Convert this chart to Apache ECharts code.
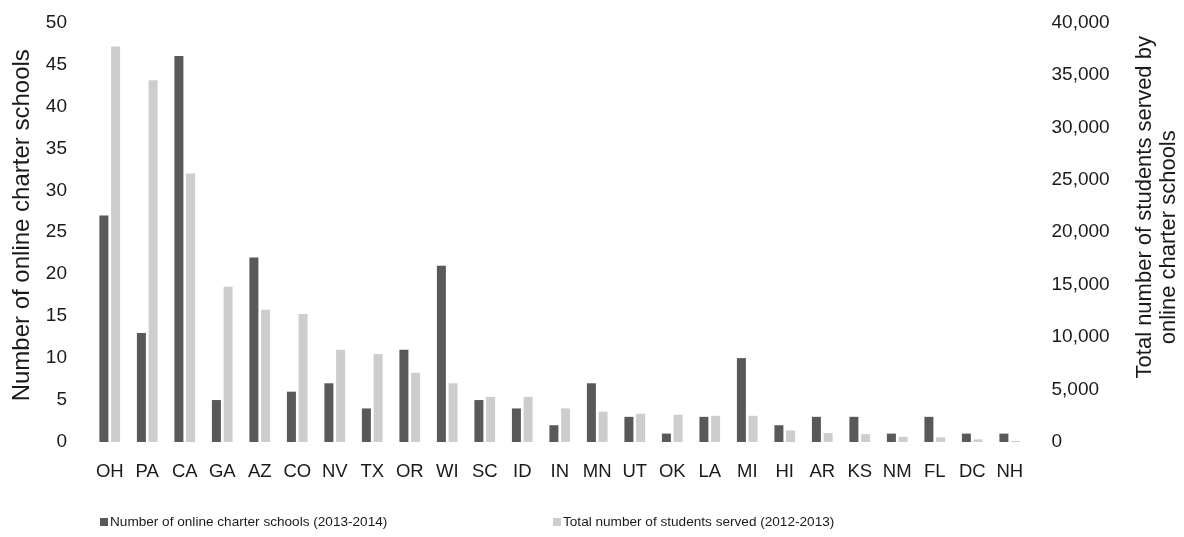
<!DOCTYPE html>
<html><head><meta charset="utf-8">
<script src="https://cdn.jsdelivr.net/npm/echarts@6/dist/echarts.min.js"></script>
<style>html,body{margin:0;padding:0;background:#fff}#c{width:1184px;height:537px}</style>
</head><body><div id="c"></div>
<script>
const states = ['OH','PA','CA','GA','AZ','CO','NV','TX','OR','WI','SC','ID','IN','MN','UT','OK','LA','MI','HI','AR','KS','NM','FL','DC','NH'];
const schools = [27,13,46,5,22,6,7,4,11,21,5,4,2,7,3,1,3,10,2,3,3,1,3,1,1];
const students = [37700,34500,25600,14800,12600,12200,8800,8400,6600,5600,4300,4300,3200,2900,2700,2600,2500,2500,1100,850,750,500,450,250,100];
const leftTicks = {min:0, max:50, interval:5};
const rightTicks = {min:0, max:40000, interval:5000};
const nameSchools = 'Number of online charter schools (2013-2014)';
const nameStudents = 'Total number of students served (2012-2013)';

const FONT = "'Liberation Sans', Arial, sans-serif";
const TXT = '#1a1a1a';
const chart = echarts.init(document.getElementById('c'), null, {renderer:'canvas'});
const legendText = {fontFamily:FONT, fontSize:13.6, color:TXT, padding:[0,0,0,-3]};
chart.setOption({
  animation:false,
  backgroundColor:'#fff',
  textStyle:{fontFamily:FONT, color:TXT},
  grid:{left:91, right:155.5, top:22.5, bottom:95, containLabel:false, outerBoundsMode:'none'},
  legend:[
    {data:[nameSchools], left:100, top:515, padding:0, icon:'rect', itemWidth:8, itemHeight:8, itemGap:4, textStyle:legendText},
    {data:[nameStudents], left:553, top:515, padding:0, icon:'rect', itemWidth:8, itemHeight:8, itemGap:4, textStyle:legendText}
  ],
  xAxis:{type:'category', data:states,
    axisLine:{show:false}, axisTick:{show:false},
    axisLabel:{fontSize:18.5, margin:20, color:TXT, fontFamily:FONT, interval:0}},
  yAxis:[
    {type:'value', position:'left', min:leftTicks.min, max:leftTicks.max, interval:leftTicks.interval,
     name:'Number of online charter schools', nameLocation:'middle', nameGap:57,
     nameTextStyle:{fontSize:24, color:TXT, fontFamily:FONT, padding:[0,0,0,14]},
     axisLine:{show:false}, axisTick:{show:false}, splitLine:{show:false},
     axisLabel:{fontSize:19, margin:24, color:TXT, fontFamily:FONT}},
    {type:'value', position:'right', min:rightTicks.min, max:rightTicks.max, interval:rightTicks.interval,
     name:'{a|Total number of students served by}\n{b|online charter schools}', nameLocation:'middle', nameGap:104,
     nameTextStyle:{color:TXT, fontFamily:FONT, align:'center', padding:[0,0,0,50],
       rich:{a:{fontSize:22, lineHeight:24, color:TXT, fontFamily:FONT},
             b:{fontSize:22, lineHeight:24, color:TXT, fontFamily:FONT, padding:[0,60,0,0]}}},
     axisLine:{show:false}, axisTick:{show:false}, splitLine:{show:false},
     axisLabel:{fontSize:19, margin:23, color:TXT, fontFamily:FONT,
       formatter:v=>v.toLocaleString('en-US')}}
  ],
  series:[
    {name:nameSchools, type:'bar', yAxisIndex:0, data:schools, barWidth:9, barGap:'30%',
     itemStyle:{color:'#595959'}},
    {name:nameStudents, type:'bar', yAxisIndex:1, data:students, barWidth:9, barGap:'30%',
     itemStyle:{color:'#cdcdcd'}}
  ]
});
</script></body></html>
